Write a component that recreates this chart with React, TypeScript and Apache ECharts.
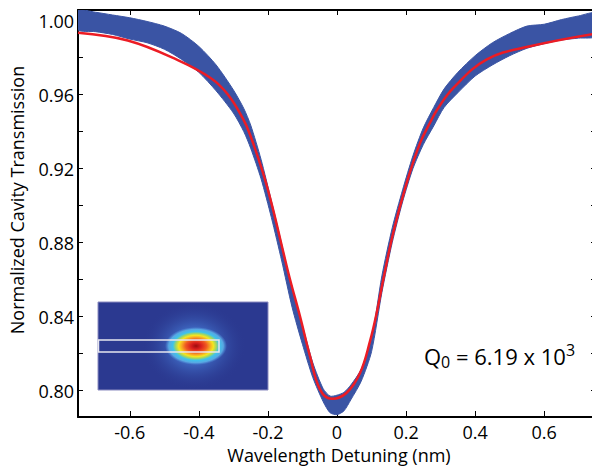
import React, { useEffect, useRef } from "react";
import * as echarts from "echarts";

// Blue measured transmission (envelope of the noisy trace)
const dataX = [-0.75, -0.70, -0.65, -0.60, -0.55, -0.50, -0.45, -0.40, -0.35, -0.30, -0.27, -0.25, -0.22, -0.19, -0.16, -0.13, -0.10, -0.07, -0.04, -0.02, 0, 0.02, 0.04, 0.07, 0.10, 0.13, 0.16, 0.19, 0.22, 0.25, 0.28, 0.31, 0.35, 0.40, 0.45, 0.50, 0.55, 0.60, 0.65, 0.70, 0.75];
const dataLow = [0.9950, 0.9940, 0.9925, 0.9900, 0.9880, 0.9845, 0.9790, 0.9720, 0.9620, 0.9500, 0.9400, 0.9310, 0.9145, 0.8935, 0.8700, 0.8450, 0.8250, 0.8070, 0.7940, 0.7880, 0.7870, 0.7890, 0.7950, 0.8050, 0.8210, 0.8530, 0.8800, 0.9020, 0.9200, 0.9330, 0.9430, 0.9530, 0.9610, 0.9700, 0.9760, 0.9810, 0.9850, 0.9875, 0.9895, 0.9905, 0.9915];
const dataHigh = [1.0055, 1.0045, 1.0030, 1.0015, 0.9995, 0.9970, 0.9930, 0.9860, 0.9760, 0.9625, 0.9525, 0.9435, 0.9250, 0.9025, 0.8790, 0.8545, 0.8350, 0.8150, 0.8010, 0.7970, 0.7975, 0.7990, 0.8030, 0.8115, 0.8280, 0.8620, 0.8880, 0.9085, 0.9270, 0.9420, 0.9530, 0.9630, 0.9720, 0.9810, 0.9880, 0.9930, 0.9970, 0.9980, 1.0005, 1.0025, 1.0040];

// Red Lorentzian fit
const fitX = [-0.75, -0.606, -0.461, -0.365, -0.316, -0.272, -0.252, -0.214, -0.186, -0.157, -0.136, -0.107, -0.078, -0.049, -0.015, 0.028, 0.067, 0.096, 0.115, 0.134, 0.163, 0.202, 0.241, 0.270, 0.289, 0.337, 0.434, 0.559, 0.75];
const fitY = [0.9934, 0.9892, 0.9786, 0.9688, 0.9600, 0.9468, 0.9384, 0.9175, 0.8985, 0.8760, 0.8600, 0.8400, 0.8185, 0.8005, 0.7955, 0.7988, 0.8096, 0.8270, 0.8420, 0.8600, 0.8854, 0.9124, 0.9340, 0.9450, 0.9515, 0.9636, 0.9790, 0.9861, 0.9930];

const xTickValues = [-0.6, -0.4, -0.2, 0, 0.2, 0.4, 0.6];
const yLabelValues = [0.80, 0.84, 0.88, 0.92, 0.96, 1.00];
const yTickValues = [0.80, 0.82, 0.84, 0.86, 0.88, 0.90, 0.92, 0.94, 0.96, 0.98, 1.00];

const FONT = '"Open Sans", "DejaVu Sans", sans-serif';
const BLUE = "#3a54a4";
const RED = "#ec1c24";

export default function App() {
  const ref = useRef<HTMLDivElement>(null);

  useEffect(() => {
    if (!ref.current) return;
    const chart = echarts.init(ref.current, null, { renderer: "svg" });
    const axisLineStyle = { color: "#000", width: 2 };
    const xLabelFmt = (v: number) => (Math.abs(v) < 1e-9 ? "0" : v.toFixed(1));
    const option: any = {
      animation: false,
      grid: { left: 78, right: 0, top: 10, bottom: 52 },
      xAxis: [
        {
          type: "value",
          min: -0.75,
          max: 0.75,
          position: "bottom",
          axisLine: { show: true, onZero: false, lineStyle: axisLineStyle },
          axisTick: { show: true, inside: true, length: 6, customValues: xTickValues, lineStyle: { color: "#000", width: 1 } },
          axisLabel: { customValues: xTickValues, formatter: xLabelFmt, fontSize: 18, fontFamily: FONT, color: "#000", margin: 6 },
          splitLine: { show: false },
        },
        {
          type: "value",
          min: -0.75,
          max: 0.75,
          position: "top",
          axisLine: { show: true, onZero: false, lineStyle: axisLineStyle },
          axisTick: { show: true, inside: true, length: 5, customValues: xTickValues, lineStyle: { color: "#000", width: 1 } },
          axisLabel: { show: false },
          splitLine: { show: false },
        },
      ],
      yAxis: [
        {
          type: "value",
          min: 0.7857,
          max: 1.0057,
          position: "left",
          axisLine: { show: true, onZero: false, lineStyle: axisLineStyle },
          axisTick: { show: true, inside: true, length: 5, customValues: yTickValues, lineStyle: { color: "#000", width: 1 } },
          axisLabel: { customValues: yLabelValues, formatter: (v: number) => v.toFixed(2), fontSize: 18, fontFamily: FONT, color: "#000", margin: 4 },
          splitLine: { show: false },
        },
        {
          type: "value",
          min: 0.7857,
          max: 1.0057,
          position: "right",
          axisLine: { show: true, onZero: false, lineStyle: axisLineStyle },
          axisTick: { show: true, inside: true, length: 5, customValues: yTickValues, lineStyle: { color: "#000", width: 1 } },
          axisLabel: { show: false },
          splitLine: { show: false },
        },
      ],
      series: [
        {
          type: "custom",
          name: "measured",
          data: dataX.map((x, i) => [x, dataLow[i], dataHigh[i]]),
          encode: { x: 0, y: [1, 2] },
          clip: true,
          z: 2,
          renderItem: (params: any, api: any) => {
            if (params.dataIndex !== 0) return null;
            const upper = dataX.map((x, i) => api.coord([x, dataHigh[i]]));
            const lower = dataX.map((x, i) => api.coord([x, dataLow[i]])).reverse();
            return {
              type: "polygon",
              shape: { points: upper.concat(lower), smooth: 0.25 },
              style: { fill: BLUE, stroke: BLUE, lineWidth: 1 },
            };
          },
        },
        {
          type: "line",
          name: "fit",
          smooth: 0.4,
          symbol: "none",
          data: fitX.map((x, i) => [x, fitY[i]]),
          lineStyle: { color: RED, width: 2.5 },
          z: 3,
        },
      ],
      graphic: [
        {
          type: "rect",
          shape: { x: 98, y: 302, width: 170, height: 88 },
          style: { fill: "#2b3990", stroke: "#8c8cc0", lineWidth: 1 },
          z: 1,
        },
        {
          type: "ellipse",
          shape: { cx: 194, cy: 346, rx: 52, ry: 44 },
          style: {
            fill: {
              type: "radial", x: 0.5, y: 0.5, r: 0.5,
              colorStops: [
                { offset: 0, color: "rgba(90,160,230,1)" },
                { offset: 0.45, color: "rgba(65,110,200,0.7)" },
                { offset: 1, color: "rgba(43,57,144,0)" },
              ],
            },
          },
          z: 1,
        },
        {
          type: "ellipse",
          shape: { cx: 196, cy: 346, rx: 31, ry: 19 },
          style: {
            fill: {
              type: "radial", x: 0.5, y: 0.5, r: 0.5,
              colorStops: [
                { offset: 0, color: "#9c0d0d" },
                { offset: 0.16, color: "#d81e1e" },
                { offset: 0.34, color: "#f05a22" },
                { offset: 0.46, color: "#f7a823" },
                { offset: 0.56, color: "#f5e61e" },
                { offset: 0.66, color: "#9bd56a" },
                { offset: 0.75, color: "#3ec3ec" },
                { offset: 0.88, color: "#58a8e2" },
                { offset: 1, color: "rgba(80,140,220,0)" },
              ],
            },
          },
          z: 1,
        },
        {
          type: "rect",
          shape: { x: 98.5, y: 340, width: 120.5, height: 12 },
          style: { fill: "none", stroke: "#e6e6ee", lineWidth: 1.5 },
          z: 1,
        },
        {
          type: "text",
          x: 17,
          y: 200,
          rotation: Math.PI / 2,
          style: {
            text: "Normalized Cavity Transmission",
            font: `18px ${FONT}`,
            fill: "#000",
            align: "center",
            verticalAlign: "middle",
            textAlign: "center",
            textVerticalAlign: "middle",
          },
        },
        {
          type: "text",
          x: 339,
          y: 455,
          style: {
            text: "Wavelength Detuning (nm)",
            font: `18px ${FONT}`,
            fill: "#000",
            align: "center",
            verticalAlign: "middle",
            textAlign: "center",
            textVerticalAlign: "middle",
          },
        },
        {
          type: "text",
          x: 424,
          y: 342,
          style: {
            text: "{a|Q}{b|0}{a| = 6.19 x 10}{c|3}",
            align: "left",
            verticalAlign: "top",
            textAlign: "left",
            textVerticalAlign: "top",
            fill: "#000",
            rich: {
              a: { fontSize: 22, fontFamily: FONT, lineHeight: 28, fill: "#000", color: "#000" },
              b: { fontSize: 16, fontFamily: FONT, lineHeight: 10, verticalAlign: "bottom", fill: "#000", color: "#000" },
              c: { fontSize: 16, fontFamily: FONT, lineHeight: 22, verticalAlign: "top", fill: "#000", color: "#000" },
            },
          },
        },
      ],
    };
    chart.setOption(option);
    return () => chart.dispose();
  }, []);

  return (
    <div style={{ position: "fixed", left: 0, top: 0, width: 592, height: 469, overflow: "hidden", background: "#fff" }}>
      <div ref={ref} style={{ width: 596, height: 469 }} />
    </div>
  );
}
